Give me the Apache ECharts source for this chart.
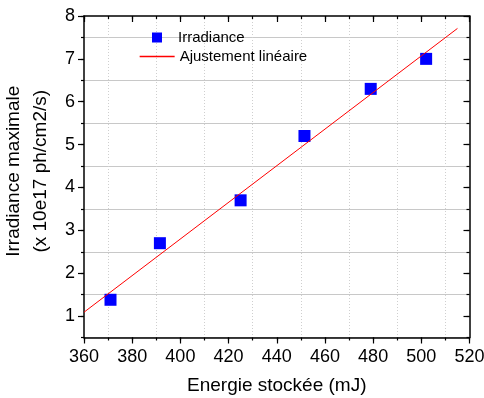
<!DOCTYPE html>
<html>
<head>
<meta charset="utf-8">
<script src="https://cdn.jsdelivr.net/npm/echarts@6/dist/echarts.min.js"></script>
<style>
  html, body { margin: 0; padding: 0; background: #fff; }
  #chart { width: 484px; height: 398px; }
</style>
</head>
<body>
<div id="chart"></div>
<script>
// measured points
const energy = [371, 391.5, 425, 451.5, 479, 502];
const irradiance = [1.38, 2.7, 3.7, 5.2, 6.3, 7.0];
// linear fit end points
const fitX = [360, 515];
const fitY = [1.09, 7.71];
// tick labels
const xTicks = [360, 380, 400, 420, 440, 460, 480, 500, 520];
const yTicks = [1, 2, 3, 4, 5, 6, 7, 8];

const font = "'Liberation Sans', Arial, sans-serif";
const black = '#000';

const mychart = echarts.init(document.getElementById('chart'));

// axis with labels + long ticks
const majorX = (pos, inside, labels) => ({
    type: 'value', position: pos, min: 360, max: 520,
    axisLine: { show: true, onZero: false, lineStyle: { color: black, width: 1.5 } },
    axisTick: { show: true, inside: inside, length: 6, customValues: xTicks, lineStyle: { color: black, width: 1.2 } },
    axisLabel: { show: labels, customValues: xTicks, margin: 11, color: black, fontSize: 18, fontFamily: font },
    splitLine: { show: false }
});
// axis with short ticks + grid lines at odd tens
const minorX = (pos, inside, grid) => ({
    type: 'value', position: pos, min: 360, max: 520, interval: 10,
    axisLine: { show: false, onZero: false },
    axisTick: { show: true, inside: inside, length: 3, lineStyle: { color: black, width: 1.2 } },
    axisLabel: { show: false },
    splitLine: { show: grid, lineStyle: { color: ['transparent', '#cfcfcf'], type: [1, 2], width: 1 } }
});
const majorY = (pos, inside, labels) => ({
    type: 'value', position: pos, min: 0.5, max: 8,
    axisLine: { show: true, onZero: false, lineStyle: { color: black, width: 1.5 } },
    axisTick: { show: true, inside: inside, length: 6, customValues: yTicks, lineStyle: { color: black, width: 1.2 } },
    axisLabel: { show: labels, customValues: yTicks, margin: 9, color: black, fontSize: 18, fontFamily: font },
    splitLine: { show: false }
});
const minorY = (pos, inside, grid) => ({
    type: 'value', position: pos, min: 0.5, max: 8, interval: 0.5,
    axisLine: { show: false, onZero: false },
    axisTick: { show: true, inside: inside, length: 3, lineStyle: { color: black, width: 1.2 } },
    axisLabel: { show: false },
    splitLine: { show: grid, lineStyle: { color: ['#c8c8c8', 'transparent'], width: 1 } }
});

const xMain = majorX('bottom', false, true);
xMain.name = 'Energie stockée (mJ)';
xMain.nameLocation = 'middle';
xMain.nameGap = 39;
xMain.nameTextStyle = { color: black, fontSize: 19, fontFamily: font };

const yMain = majorY('left', false, true);
yMain.name = 'Irradiance maximale\n(x 10e17 ph/cm2/s)';
yMain.nameLocation = 'middle';
yMain.nameRotate = 90;
yMain.nameGap = 23;
yMain.nameTextStyle = { color: black, fontSize: 19, fontFamily: font, lineHeight: 27, padding: [0, 0, 0, 11] };

const option = {
    animation: false,
    backgroundColor: '#fff',
    grid: { left: 84, right: 14.5, top: 16, bottom: 60.5, containLabel: false, outerBoundsMode: 'none' },
    xAxis: [
        xMain,
        minorX('bottom', false, true),
        majorX('top', true, false),
        minorX('top', true, false)
    ],
    yAxis: [
        yMain,
        minorY('left', false, true),
        majorY('right', true, false),
        minorY('right', true, false)
    ],
    legend: [
        {
            data: [{ name: 'Irradiance', itemStyle: { color: '#0000ff', opacity: 1 } }],
            left: 152, top: 30, padding: 0, icon: 'rect',
            itemWidth: 10, itemHeight: 10,
            textStyle: { color: black, fontSize: 15, fontFamily: font, padding: [0, 0, 0, 11] }
        },
        {
            data: ['Ajustement linéaire'],
            left: 139, top: 49, padding: 0,
            itemWidth: 35, itemHeight: 14,
            itemStyle: { color: 'rgba(255,255,255,0)', borderWidth: 0 },
            lineStyle: { color: '#ff0000', width: 1.3, opacity: 1 },
            textStyle: { color: black, fontSize: 15, fontFamily: font }
        }
    ],
    series: [
        {
            name: 'Irradiance',
            type: 'scatter',
            symbol: 'rect',
            symbolSize: 12,
            itemStyle: { color: '#0000ff', opacity: 1 },
            z: 3,
            data: energy.map((e, i) => [e, irradiance[i]])
        },
        {
            name: 'Ajustement linéaire',
            type: 'line',
            symbol: 'none',
            itemStyle: { color: '#ff0000' },
            lineStyle: { color: '#ff0000', width: 1 },
            z: 4,
            data: fitX.map((x, i) => [x, fitY[i]])
        }
    ]
};

mychart.setOption(option);
</script>
</body>
</html>
